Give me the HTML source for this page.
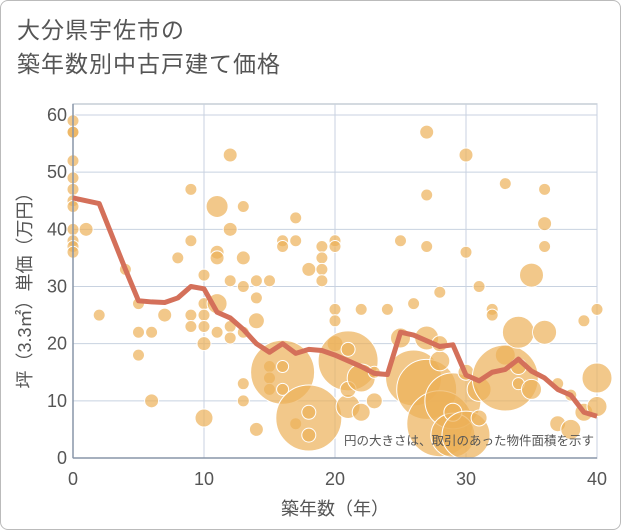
<!DOCTYPE html>
<html><head><meta charset="utf-8">
<style>
body{margin:0;background:#fff;}
#wrap{position:relative;width:619px;height:528px;border:1px solid #bbb;border-radius:8px;background:#fff;overflow:hidden;font-family:"Liberation Sans","Noto Sans CJK JP",sans-serif;}
#title{position:absolute;left:16px;top:12px;font-size:23px;line-height:34px;color:#555;letter-spacing:1px;}
svg{position:absolute;left:0;top:0;}
</style></head>
<body>
<div id="wrap">
<div id="title">大分県宇佐市の<br>築年数別中古戸建て価格</div>
<svg id="chart" width="621" height="530"></svg>
</div>
<script>
const xTicks=[0,10,20,30,40];
const yTicks=[0,10,20,30,40,50,60];
const lineAges=[0,2,4,5,6,7,8,9,10,11,12,13,14,15,16,17,18,19,20,21,22,23,24,25,26,27,28,29,30,31,32,33,34,35,36,37,38,39,40];
const lineValues=[45.5,44.5,33,27.5,27.3,27.2,28,30,29.6,25.5,24.5,22.5,20,18.5,20,18.3,19,18.8,18,17,16,14.8,14.6,22,21.5,20.5,19.5,19.8,14.5,13.5,15,15.5,17.3,15.2,14,12,11,8,7.3];
const bubbleAges=[0,0,0,0,0,0,0,0,0,0,0,0,1,2,4,5,5,5,6,6,7,8,9,9,9,9,10,10,10,10,10,10,11,11,11,11,11,12,12,12,12,12,13,13,13,13,13,13,14,14,14,14,15,15,15,15,16,16,16,16,16,17,17,17,18,18,18,18,19,19,19,19,20,20,20,20,20,21,21,21,21,22,22,22,23,23,24,25,25,26,26,27,27,27,27,27,28,28,28,28,29,29,29,30,30,30,30,31,31,31,32,32,33,33,33,34,34,34,35,35,36,36,36,36,37,37,38,38,39,39,40,40,40];
const bubbleValues=[59,57,57,52,49,47,45,44,40,38,37,36,40,25,33,27,22,18,22,10,25,35,47,38,25,23,32,27,25,23,20,7,44,36,35,27,22,53,40,31,23,21,44,35,30,22,13,10,31,28,24,5,31,16,14,12,38,37,15,16,12,42,38,6,33,7,8,4,37,35,33,31,26,24,20,38,37,17,19,9,12,26,14,8,15,10,26,38,21,27,14,57,46,37,21,12,29,17,6,20,10,4,8,53,36,15,4,30,12,7,26,25,48,18,14,16,13,22,32,12,47,41,37,22,13,6,11,5,8,24,14,26,9];
const bubbleSizes=[6,6,6,6,6,6,6,6,6,6,6,6,7,6,6,6,6,6,6,7,7,6,6,6,6,6,6,6,6,6,7,9,11,7,7,10,6,7,7,6,6,6,6,7,6,6,6,6,6,6,8,7,6,6,6,6,6,6,32,6,6,6,6,6,7,33,7,7,6,6,6,6,6,6,8,6,6,30,7,12,8,6,14,9,6,8,6,6,10,6,28,7,6,6,12,30,6,10,33,8,28,22,9,7,6,8,24,6,12,8,6,6,6,10,33,8,6,16,12,10,6,7,6,12,6,8,6,10,9,6,15,6,10];
const svg=document.getElementById('chart');
const NS='http://www.w3.org/2000/svg';
const L=72,R=596,T=114,B=457;
const xs=v=>L+(v/40)*(R-L);
const ys=v=>B-(v/60)*(B-T);
function mk(tag,attrs,parent){const e=document.createElementNS(NS,tag);for(const k in attrs)e.setAttribute(k,attrs[k]);(parent||svg).appendChild(e);return e;}
const frame=mk('rect',{x:L,y:103,width:R-L,height:B-103,fill:'#fff',stroke:'#aab4c2','stroke-width':1});


xTicks.forEach(t=>{
 const g=mk('line',{x1:xs(t),x2:xs(t),y1:103,y2:B,stroke:'#c8d2e0','stroke-width':1});
 
 
 const tx=mk('text',{x:xs(t),y:484,'text-anchor':'middle','font-size':18,fill:'#555'});
 tx.textContent=t;
 
 
});
yTicks.forEach(t=>{
 const g=mk('line',{x1:L,x2:R,y1:ys(t),y2:ys(t),stroke:'#c8d2e0','stroke-width':1});
 
 
 const tx=mk('text',{x:66,y:ys(t)+6,'text-anchor':'end','font-size':18,fill:'#555'});
 tx.textContent=t;
 
 
});
const bg=mk('g',{});


bubbleAges.forEach((a,i)=>{
 const c=mk('circle',{cx:xs(a),cy:ys(bubbleValues[i]),r:bubbleSizes[i],fill:'rgba(236,176,88,0.7)',stroke:'#fff','stroke-width':1},bg);
 
 
});
const axL=mk('line',{x1:L,x2:L,y1:103,y2:B,stroke:'#8896a8','stroke-width':1.5});


const axB=mk('line',{x1:L,x2:R,y1:B,y2:B,stroke:'#8896a8','stroke-width':1.5});


const pl=mk('polyline',{points:lineAges.map((a,i)=>xs(a)+','+ys(lineValues[i])).join(' '),fill:'none',stroke:'#d4705a','stroke-width':5,'stroke-linejoin':'round'});


const note=mk('text',{x:593,y:444,'text-anchor':'end','font-size':12.5,fill:'#555'});
note.textContent='円の大きさは、取引のあった物件面積を示す';


const xt=mk('text',{x:334,y:514,'text-anchor':'middle','font-size':18,fill:'#555'});
xt.textContent='築年数（年）';


const yt=mk('text',{x:0,y:0,'text-anchor':'middle','font-size':18,fill:'#555',transform:'translate(30,285) rotate(-90)'});
yt.textContent='坪（3.3㎡）単価（万円）';


</script>
</body></html>
